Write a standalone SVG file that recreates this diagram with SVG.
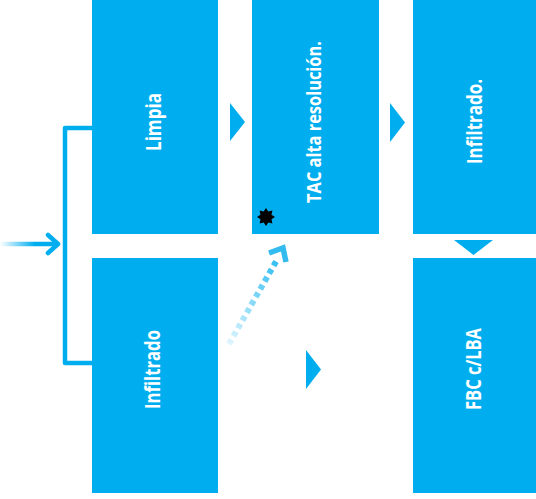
<svg xmlns="http://www.w3.org/2000/svg" width="536" height="499" viewBox="0 0 536 499">
<style>
.box{fill:#00AEEF}
.tri{fill:#00AEEF}
.lbl{fill:#fff;font-family:"Open Sans","Liberation Sans",sans-serif;font-weight:700;font-size:21px;text-anchor:middle}
.line{fill:none;stroke:#00AEEF;stroke-width:4.5;stroke-linejoin:round;stroke-linecap:round}
</style>
<defs>
<linearGradient id="gin" gradientUnits="userSpaceOnUse" x1="0" y1="244" x2="58" y2="244">
<stop offset="0" stop-color="#00AEEF" stop-opacity="0"/>
<stop offset="0.6" stop-color="#00AEEF" stop-opacity="1"/>
</linearGradient>
<linearGradient id="gdot" gradientUnits="userSpaceOnUse" x1="228" y1="345" x2="285" y2="250">
<stop offset="0" stop-color="#00AEEF" stop-opacity="0.12"/>
<stop offset="1" stop-color="#00AEEF" stop-opacity="0.9"/>
</linearGradient>
</defs>
<g id="node-limpia">
<rect class="box" x="92" y="0" width="126" height="234"/>
<text class="lbl" transform="translate(161,122) rotate(-90)" textLength="58" lengthAdjust="spacingAndGlyphs">Limpia</text>
</g>
<g id="node-tac">
<rect class="box" x="252" y="0" width="127" height="234"/>
<text class="lbl" transform="translate(321,122) rotate(-90) scale(0.82,1)" style="font-size:20px">TAC alta resolución.</text>
<polygon fill="#000" points="266,208 268.3,211.5 272.4,210.6 271.5,214.7 275,217 271.5,219.3 272.4,223.4 268.3,222.5 266,226 263.7,222.5 259.6,223.4 260.5,219.3 257,217 260.5,214.7 259.6,210.6 263.7,211.5"/>
</g>
<g id="node-infiltrado-top">
<rect class="box" x="413" y="0" width="123" height="234"/>
<text class="lbl" transform="translate(482,121.5) rotate(-90)" textLength="85" lengthAdjust="spacingAndGlyphs">Infiltrado.</text>
</g>
<g id="node-infiltrado-bottom">
<rect class="box" x="92" y="258" width="126" height="235"/>
<text class="lbl" transform="translate(160,369.5) rotate(-90)" textLength="79" lengthAdjust="spacingAndGlyphs">Infiltrado</text>
</g>
<g id="node-fbc">
<rect class="box" x="413" y="258" width="123" height="235"/>
<text class="lbl" transform="translate(481,369) rotate(-90)" textLength="82" lengthAdjust="spacingAndGlyphs">FBC c/LBA</text>
</g>
<g id="connectors">
<path class="line" d="M92,128 H65 V363 H92"/>
<line x1="0" y1="244" x2="58" y2="244" stroke="url(#gin)" stroke-width="4.5"/>
<polyline class="line" points="48,235 58,244 48,253"/>
<polygon class="tri" points="230,103 245,122 230,141"/>
<polygon class="tri" points="390,103 405,122.5 390,142"/>
<polygon class="tri" points="454,240 493,240 473.5,255"/>
<polygon class="tri" points="306,350 321,369.5 306,389"/>
<line x1="229" y1="344" x2="278" y2="258" stroke="url(#gdot)" stroke-width="6" stroke-dasharray="5,4"/>
<polyline points="269,253 283,248 286,262" fill="none" stroke="#33BBF0" stroke-width="5.5" stroke-linejoin="miter"/>
</g>
</svg>
